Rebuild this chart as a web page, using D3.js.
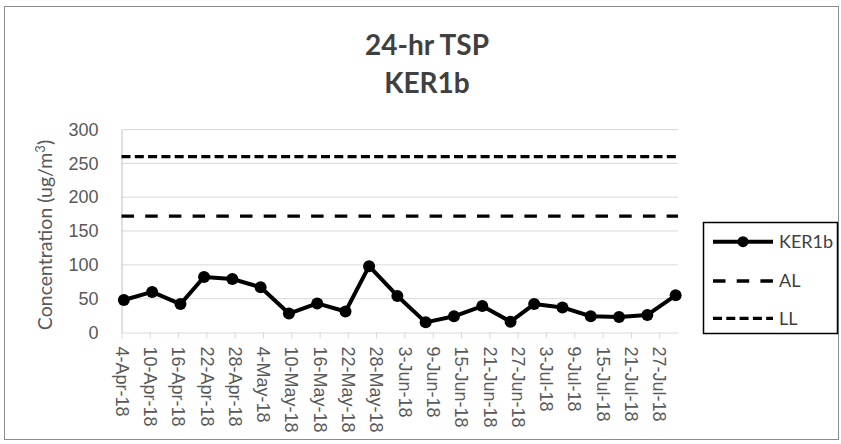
<!DOCTYPE html>
<html>
<head>
<meta charset="utf-8"/>
<script src="https://d3js.org/d3.v7.min.js"></script>
<style>
body { margin: 0; background: #fff; }
svg { display: block; }
.tick text { font-family: "Liberation Sans", Arial, sans-serif; }
</style>
</head>
<body>
<svg id="svg" width="841" height="444"></svg>
<script>
// sample dates (24-hr TSP, KER1b) and concentrations
var sampleDates = ["2018-04-04","2018-04-10","2018-04-16","2018-04-21","2018-04-27","2018-05-03",
                   "2018-05-09","2018-05-15","2018-05-21","2018-05-26","2018-06-01","2018-06-07",
                   "2018-06-13","2018-06-19","2018-06-25","2018-06-30","2018-07-06","2018-07-12",
                   "2018-07-18","2018-07-24","2018-07-30"];
var ker1b = [48, 60, 42, 82, 79, 67, 28, 43, 31, 98, 54, 15, 24, 39, 16, 42, 37, 24, 23, 26, 55];
var alValue = 172;
var llValue = 260;
var yTicks = [0, 50, 100, 150, 200, 250, 300];
var tickDates = ["2018-04-04","2018-04-10","2018-04-16","2018-04-22","2018-04-28","2018-05-04",
                 "2018-05-10","2018-05-16","2018-05-22","2018-05-28","2018-06-03","2018-06-09",
                 "2018-06-15","2018-06-21","2018-06-27","2018-07-03","2018-07-09","2018-07-15",
                 "2018-07-21","2018-07-27"];
var legendNames = ["KER1b", "AL", "LL"];

var parse = d3.timeParse("%Y-%m-%d");
var fmt = d3.timeFormat("%-d-%b-%y");

var svg = d3.select("#svg");
var pLeft = 121.5, pRight = 678, pTop = 129.5, pBottom = 332.5;

var x = d3.scaleTime()
    .domain([parse("2018-04-04"), parse("2018-07-31")])
    .range([pLeft, pRight]);
var y = d3.scaleLinear().domain([0, 300]).range([pBottom, pTop]);

// outer border
svg.append("rect")
    .attr("x", 4.5).attr("y", 6.5)
    .attr("width", 834).attr("height", 433)
    .attr("fill", "#fff").attr("stroke", "#8c8c8c").attr("stroke-width", 1);

// gridlines
svg.append("g").selectAll("line")
    .data(yTicks.slice(1))
    .enter().append("line")
    .attr("x1", pLeft).attr("x2", pRight)
    .attr("y1", d => y(d)).attr("y2", d => y(d))
    .attr("stroke", "#d9d9d9").attr("stroke-width", 1);

// y axis
var yAxisG = svg.append("g")
    .attr("transform", "translate(" + pLeft + ",0)")
    .call(d3.axisLeft(y).tickValues(yTicks).tickSize(0).tickPadding(23));
yAxisG.select(".domain").attr("stroke", "#bfbfbf");
yAxisG.selectAll("text")
    .attr("fill", "#595959")
    .style("font-size", "18px");

// x axis
var xAxisG = svg.append("g")
    .attr("transform", "translate(0," + pBottom + ")")
    .call(d3.axisBottom(x).tickValues(tickDates.map(parse)).tickFormat(fmt).tickSizeInner(6).tickSizeOuter(0));
xAxisG.select(".domain").attr("stroke", "#d9d9d9");
xAxisG.selectAll(".tick line").attr("stroke", "#d9d9d9");
xAxisG.selectAll("text")
    .attr("fill", "#595959")
    .style("font-size", "18px")
    .style("text-anchor", "start")
    .attr("transform", "rotate(90)")
    .attr("x", 14)
    .attr("y", 0)
    .attr("dy", "0.35em");

// limit lines
svg.append("line")
    .attr("x1", pLeft).attr("x2", pRight)
    .attr("y1", y(llValue)).attr("y2", y(llValue))
    .attr("stroke", "#000").attr("stroke-width", 3.3)
    .attr("stroke-dasharray", "9,4.3");
svg.append("line")
    .attr("x1", pLeft).attr("x2", pRight)
    .attr("y1", y(alValue)).attr("y2", y(alValue))
    .attr("stroke", "#000").attr("stroke-width", 3.3)
    .attr("stroke-dasharray", "12.5,11.2");

// data
var data = sampleDates.map(function(d, i) {
    return { date: d3.timeHour.offset(parse(d), 12), value: ker1b[i] };
});
var line = d3.line()
    .x(d => x(d.date))
    .y(d => y(d.value));
svg.append("path")
    .datum(data)
    .attr("d", line)
    .attr("fill", "none")
    .attr("stroke", "#000")
    .attr("stroke-width", 4)
    .attr("stroke-linejoin", "round");
svg.append("g").selectAll("circle")
    .data(data)
    .enter().append("circle")
    .attr("cx", d => x(d.date))
    .attr("cy", d => y(d.value))
    .attr("r", 6)
    .attr("fill", "#000");

// title
var title = svg.append("text")
    .attr("text-anchor", "middle")
    .attr("fill", "#404040")
    .style("font-family", "Lato, 'Liberation Sans', sans-serif")
    .style("font-weight", "bold")
    .style("font-size", "28px");
title.append("tspan").attr("x", 427).attr("y", 55).text("24-hr TSP");
title.append("tspan").attr("x", 427).attr("y", 93).text("KER1b");

// y axis title
svg.append("text")
    .attr("transform", "translate(52," + ((pTop + pBottom) / 2 + 4) + ") rotate(-90)")
    .attr("text-anchor", "middle")
    .attr("fill", "#595959")
    .style("font-family", "Lato, 'Liberation Sans', sans-serif")
    .style("font-size", "19.5px")
    .html("Concentration (ug/m<tspan dy='-7' style='font-size:13px'>3</tspan><tspan dy='7'>)</tspan>");

// legend
var lg = svg.append("g");
lg.append("rect")
    .attr("x", 703.5).attr("y", 222.5)
    .attr("width", 134).attr("height", 111)
    .attr("fill", "#fff").attr("stroke", "#000").attr("stroke-width", 1.5);
var rowY = [241.7, 281, 318.3];
var dashes = [null, "12.5,11.2", "9,4.3"];
legendNames.forEach(function(name, i) {
    lg.append("line")
        .attr("x1", 713).attr("x2", 773)
        .attr("y1", rowY[i]).attr("y2", rowY[i])
        .attr("stroke", "#000")
        .attr("stroke-width", i === 0 ? 4 : 3.3)
        .attr("stroke-dasharray", dashes[i]);
    if (i === 0) {
        lg.append("circle").attr("cx", 743).attr("cy", rowY[i]).attr("r", 5.5).attr("fill", "#000");
    }
    lg.append("text")
        .attr("x", 779).attr("y", rowY[i])
        .attr("dy", "0.35em")
        .attr("fill", "#404040")
        .style("font-family", "Lato, 'Liberation Sans', sans-serif")
        .style("font-size", "18px")
        .text(name);
});
</script>
</body>
</html>
